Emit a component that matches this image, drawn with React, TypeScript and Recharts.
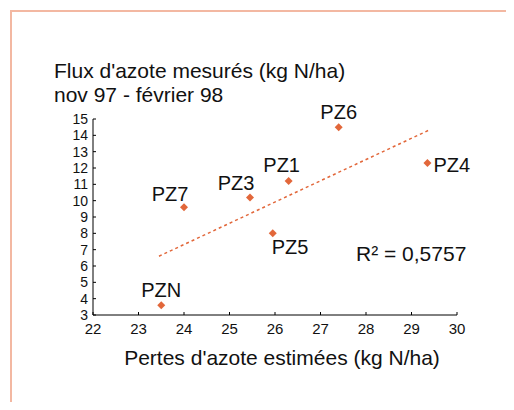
import { ScatterChart, Scatter, XAxis, YAxis, ReferenceLine } from "recharts"

const sites = ["PZN", "PZ7", "PZ3", "PZ5", "PZ1", "PZ6", "PZ4"]
const pertes = [23.5, 24.0, 25.45, 25.95, 26.3, 27.4, 29.35]
const flux = [3.6, 9.6, 10.2, 8.0, 11.2, 14.5, 12.3]

// trend line end points
const trendX = [23.45, 29.37]
const trendY = [6.6, 14.3]

const xTicks = [22, 23, 24, 25, 26, 27, 28, 29, 30]
const yTicks = [3, 4, 5, 6, 7, 8, 9, 10, 11, 12, 13, 14, 15]

const FONT = "'Liberation Sans', Arial, sans-serif"
const ORANGE = "#e2673a"

// where each site label sits relative to its marker
const labelPlace: Record<string, { dx: number; dy: number; anchor: "start" | "middle" }> = {
  PZN: { dx: 0, dy: -8, anchor: "middle" },
  PZ7: { dx: -14, dy: -6, anchor: "middle" },
  PZ3: { dx: -14, dy: -7, anchor: "middle" },
  PZ5: { dx: -1, dy: 21, anchor: "start" },
  PZ1: { dx: -7, dy: -9, anchor: "middle" },
  PZ6: { dx: 0, dy: -8, anchor: "middle" },
  PZ4: { dx: 6, dy: 9, anchor: "start" },
}

const points = sites.map((name, i) => ({ name, x: pertes[i], y: flux[i] }))

function SiteMarker(props: any) {
  const { cx, cy, payload } = props
  const p = labelPlace[payload.name]
  return (
    <g>
      <polygon
        points={`${cx},${cy - 4} ${cx + 4},${cy} ${cx},${cy + 4} ${cx - 4},${cy}`}
        fill={ORANGE}
      />
      <text
        x={cx + p.dx}
        y={cy + p.dy}
        textAnchor={p.anchor}
        fontSize={20}
        fontFamily={FONT}
        fill="#111"
      >
        {payload.name}
      </text>
    </g>
  )
}

const xTickStyle = { fontSize: 15, fill: "#111", fontFamily: FONT }
const yTickStyle = { fontSize: 14, fill: "#111", fontFamily: FONT }

export default function App() {
  return (
    <div style={{ position: "relative", width: 506, height: 402, marginBottom: -8, fontFamily: FONT }}>
      <div
        style={{
          position: "absolute",
          left: 2,
          top: 2,
          right: 0,
          bottom: 0,
          borderTop: "2px solid #f3b8a2",
          borderLeft: "2px solid #f3b8a2",
        }}
      />
      <div style={{ position: "absolute", left: 46, top: 51, fontSize: 21, lineHeight: "24px", color: "#111" }}>
        Flux d'azote mesurés (kg N/ha)
        <br />
        nov 97 - février 98
      </div>
      <ScatterChart
        width={506}
        height={402}
        margin={{ top: 111, right: 57, bottom: 65, left: 45 }}
        style={{ position: "absolute", left: 0, top: 0 }}
      >
        <XAxis
          type="number"
          dataKey="x"
          domain={[22, 30]}
          ticks={xTicks}
          interval={0}
          height={30}
          tick={xTickStyle}
          axisLine={{ stroke: "#000" }}
          tickLine={{ stroke: "#000" }}
          tickSize={-3}
          tickMargin={11}
        />
        <YAxis
          type="number"
          dataKey="y"
          domain={[3, 15]}
          ticks={yTicks}
          interval={0}
          width={40}
          tick={yTickStyle}
          axisLine={{ stroke: "#000" }}
          tickLine={{ stroke: "#000" }}
          tickSize={-3}
          tickMargin={8}
        />
        <ReferenceLine
          segment={[
            { x: trendX[0], y: trendY[0] },
            { x: trendX[1], y: trendY[1] },
          ]}
          stroke={ORANGE}
          strokeWidth={1.5}
          strokeDasharray="3 3"
          ifOverflow="visible"
        />
        <Scatter data={points} shape={SiteMarker} isAnimationActive={false} />
      </ScatterChart>
      <div
        style={{
          position: "absolute",
          left: 0,
          width: 548,
          top: 338,
          textAlign: "center",
          fontSize: 21,
          lineHeight: "24px",
          color: "#111",
        }}
      >
        Pertes d'azote estimées (kg N/ha)
      </div>
      <div style={{ position: "absolute", left: 348, top: 234, fontSize: 21, lineHeight: "24px", color: "#111" }}>
        R² = 0,5757
      </div>
    </div>
  )
}
